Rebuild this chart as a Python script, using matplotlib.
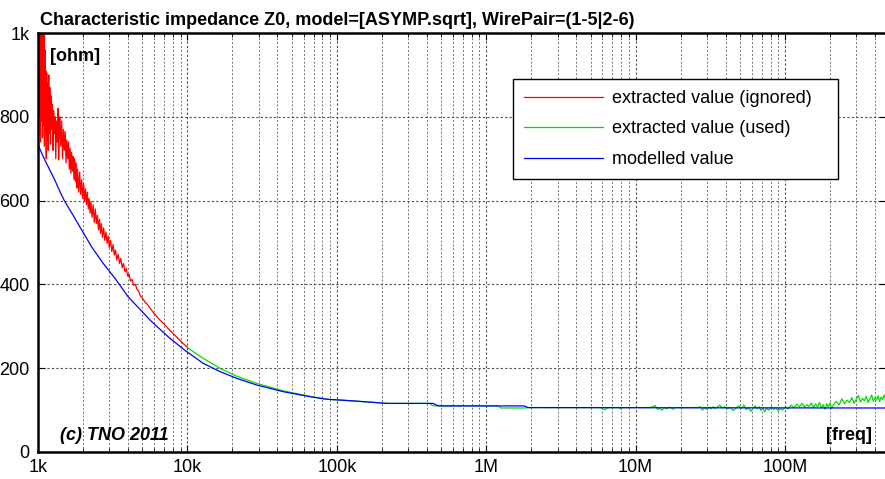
import matplotlib.pyplot as plt
from matplotlib.ticker import FixedLocator, LogLocator, NullFormatter

plt.rcParams['font.family'] = ['Liberation Sans', 'DejaVu Sans']

# ================================
# Data (freq in kHz, impedance in ohm)
# ================================
red_freq_k = [1.000, 1.008, 1.016, 1.024, 1.032, 1.040, 1.048, 1.056, 1.064, 1.072,
              1.080, 1.088, 1.096, 1.104, 1.112, 1.120, 1.128, 1.136, 1.144, 1.152,
              1.160, 1.170, 1.180, 1.190, 1.200, 1.212, 1.224, 1.236, 1.248, 1.260,
              1.272, 1.285, 1.300, 1.315, 1.330, 1.345, 1.360, 1.375, 1.390,
              1.40, 1.42, 1.44, 1.46, 1.48, 1.50, 1.52, 1.54, 1.56, 1.58,
              1.60, 1.62, 1.64, 1.66, 1.68, 1.70, 1.72, 1.74, 1.76, 1.78,
              1.80, 1.82, 1.84, 1.87, 1.90, 1.93, 1.96, 1.99, 2.02, 2.05,
              2.08, 2.11, 2.14, 2.17, 2.20, 2.23, 2.26, 2.30, 2.34, 2.38,
              2.42, 2.46, 2.50, 2.54, 2.58, 2.62, 2.66, 2.70, 2.75, 2.80,
              2.85, 2.90, 2.95, 3.00, 3.06, 3.12, 3.18, 3.24, 3.30, 3.37,
              3.44, 3.51, 3.58, 3.66, 3.74, 3.82, 3.90, 3.98, 4.07, 4.16,
              4.26, 4.36, 4.48, 4.60, 4.72, 4.85, 5.00, 5.20, 5.40, 5.60,
              6.00, 6.50, 7.00, 7.50, 8.00, 8.60, 9.30, 10.1]
red_z = [1050, 760, 1100, 800, 1060, 740, 1080, 790, 1040, 750,
         1010, 780, 1030, 730, 960, 760, 910, 700, 905, 745,
         880, 720, 900, 760, 870, 735, 850, 770, 830, 720,
         815, 760, 800, 700, 790, 740, 820, 697, 780,
         800, 730, 790, 700, 770, 720, 765, 690, 745, 700,
         740, 675, 725, 665, 715, 670, 705, 650, 700, 645,
         690, 630, 675, 620, 668, 615, 650, 605, 640, 598,
         628, 590, 620, 580, 605, 570, 598, 560, 590, 548,
         580, 545, 565, 530, 555, 522, 545, 512, 535, 505,
         525, 498, 515, 488, 505, 478, 495, 470, 482, 458,
         472, 450, 462, 440, 450, 430, 438, 420, 425, 408,
         412, 398, 400, 388, 384, 372, 367, 358, 352, 344,
         330, 316, 305, 293, 283, 272, 260, 248]

green_freq_k = [10.1, 12.7, 16.5, 21.3, 29, 43.7, 66, 85, 128, 216,
                420, 435, 460, 1200, 1250, 1800, 1900, 5800, 6200, 6600,
                7800, 7900, 8200, 12500, 13000, 13500, 14000, 14500, 15000, 15500,
                16000, 17000, 17700, 18500, 26000,
                27000, 28000, 29000, 30000, 31000, 32000, 33000, 34000, 35000, 36500,
                38000, 39500, 41000, 43000, 45000, 47000, 49000, 51000, 53000, 55000,
                57000, 59000, 61000, 63000, 65000, 67000, 69000, 71000, 73000, 75000,
                78000, 81000, 84000, 87000, 90000, 93000, 96000, 100000, 105000, 110000,
                115000, 120000, 125000, 130000, 135000, 140000, 145000, 150000, 155000, 160000,
                165000, 170000, 175000, 180000, 185000, 190000, 195000, 200000, 205000, 210000,
                220000, 230000, 240000, 250000, 260000, 270000, 280000, 290000, 300000, 310000,
                320000, 330000, 340000, 350000, 360000, 370000, 380000, 390000, 400000, 410000,
                420000, 430000, 440000, 450000, 460000, 470000]
green_z = [248, 224, 200, 181, 164, 146, 133, 126, 122, 116,
           116, 111, 110, 110, 105, 105, 106, 106, 101, 106,
           106, 103, 106, 106, 108, 111, 102, 104, 100, 106,
           103, 107, 102, 106, 106,
           108, 100, 106, 101, 107, 103, 108, 104, 106, 112,
           105, 108, 103, 106, 99, 105, 110, 104, 112, 101,
           106, 97, 104, 110, 103, 108, 99, 105, 96, 104,
           100, 108, 101, 106, 98, 104, 100, 107, 103, 112,
           106, 114, 108, 116, 107, 113, 109, 117, 106, 115,
           108, 118, 105, 113, 102, 115, 108, 117, 104, 112,
           121, 112, 127, 115, 124, 118, 130, 116, 126, 135,
           119, 128, 122, 133, 118, 127, 136, 121, 130, 124,
           134, 120, 131, 125, 136, 127]

blue_freq_k = [1.0, 1.1, 1.2, 1.3, 1.4, 1.5, 1.75, 1.96, 2.3, 2.72,
               3.3, 4.0, 4.8, 5.62, 6.5, 7.6, 9.6, 12.7, 16.5, 21.3,
               29, 43.7, 66, 85, 128, 216, 440, 480, 1800, 1900, 470000]
blue_z = [733, 700, 673, 648, 622, 600, 560, 530, 488, 451,
          413, 371, 341, 315, 294, 272, 243, 212, 192, 176,
          160, 144, 132, 126, 122, 116, 116, 110, 110, 106, 105]

x_ticks = [1e3, 1e4, 1e5, 1e6, 1e7, 1e8]
x_labels = ["1k", "10k", "100k", "1M", "10M", "100M"]
y_ticks = [0, 200, 400, 600, 800, 1000]
y_labels = ["0", "200", "400", "600", "800", "1k"]

# ================================
# Plot
# ================================
fig = plt.figure(figsize=(8.85, 4.79), dpi=100)
ax = fig.add_axes([38 / 885, 27 / 479, 848 / 885, 419 / 479])

ax.plot([f * 1e3 for f in red_freq_k], red_z, color="#ff0000", lw=0.9,
        label="extracted value (ignored)")
ax.plot([f * 1e3 for f in green_freq_k], green_z, color="#00dd00", lw=0.9,
        label="extracted value (used)")
ax.plot([f * 1e3 for f in blue_freq_k], blue_z, color="#0000ff", lw=0.9,
        label="modelled value")

ax.set_xscale("log")
ax.set_xlim(1e3, 4.74e8)
ax.set_ylim(0, 1000)
ax.xaxis.set_major_locator(FixedLocator(x_ticks))
ax.set_xticklabels(x_labels)
ax.xaxis.set_minor_locator(LogLocator(base=10, subs=range(2, 10)))
ax.xaxis.set_minor_formatter(NullFormatter())
ax.set_yticks(y_ticks)
ax.set_yticklabels(y_labels)

ax.tick_params(which="both", direction="in", top=True, right=True, labelsize=13)
ax.tick_params(axis="x", pad=5)
ax.tick_params(axis="y", pad=6)
ax.tick_params(which="major", length=5)
ax.tick_params(which="minor", length=3)

ax.grid(True, which="major", color="0.3", linestyle=(0, (2, 2)), lw=0.8)
ax.grid(True, which="minor", axis="x", color="0.45", linestyle=(0, (2, 2)), lw=0.7)

for side in ["left", "bottom", "top"]:
    ax.spines[side].set_linewidth(1.8)

ax.set_title("Characteristic impedance Z0, model=[ASYMP.sqrt], WirePair=(1-5|2-6)",
             loc="left", fontsize=13, fontweight="bold", pad=6, x=0.002)

ax.text(0.014, 0.945, "[ohm]", transform=ax.transAxes, fontsize=13,
        fontweight="bold", va="center", ha="left")
ax.text(0.026, 0.04, "(c) TNO 2011", transform=ax.transAxes, fontsize=13,
        fontweight="bold", style="italic", va="center", ha="left")
ax.text(0.983, 0.04, "[freq]", transform=ax.transAxes, fontsize=13,
        fontweight="bold", va="center", ha="right")

# legend box spans x 513..838, y 79..178 px in the reference
leg_x0 = (513 - 38) / 848
leg_y1 = (452 - 79) / 419
leg = ax.legend(loc="upper left", bbox_to_anchor=(leg_x0, leg_y1 - 0.3, (838 - 513) / 848, 0.3),
                mode="expand", borderaxespad=0, fontsize=13, fancybox=False,
                framealpha=1, edgecolor="black", handlelength=4.4, handletextpad=0.5,
                borderpad=0.6, labelspacing=0.75)
leg.get_frame().set_linewidth(1.0)

plt.savefig("out.png", dpi=100)
